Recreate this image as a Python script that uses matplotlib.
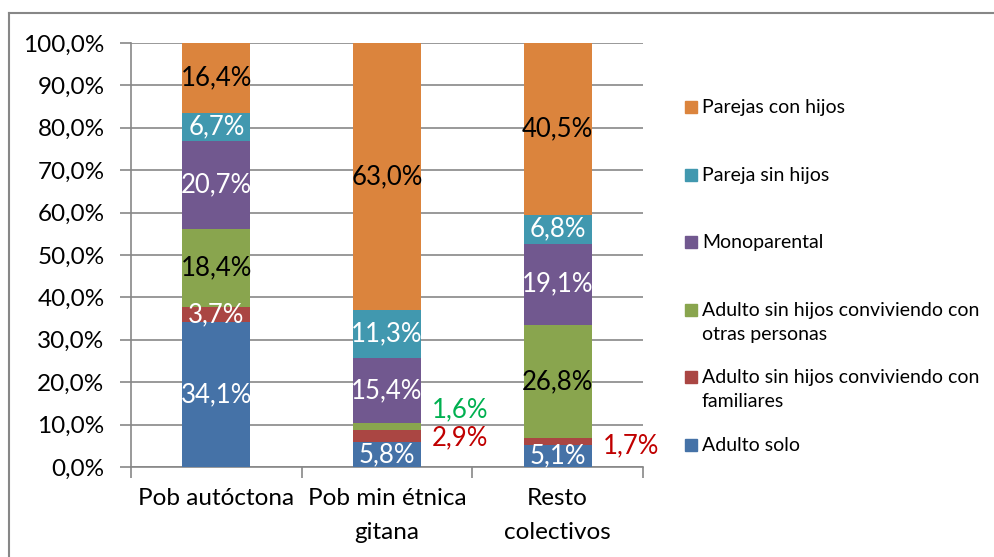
import numpy as np
import matplotlib.pyplot as plt
from matplotlib.patches import Rectangle
from matplotlib.ticker import FuncFormatter, FixedLocator

plt.rcParams['font.family'] = ['Lato', 'DejaVu Sans']

categorias = ["Pob autóctona", "Pob min étnica\ngitana", "Resto\ncolectivos"]
series = ["Adulto solo",
          "Adulto sin hijos conviviendo con\nfamiliares",
          "Adulto sin hijos conviviendo con\notras personas",
          "Monoparental",
          "Pareja sin hijos",
          "Parejas con hijos"]
adulto_solo = [34.1, 5.8, 5.1]
adulto_familiares = [3.7, 2.9, 1.7]
adulto_otras = [18.4, 1.6, 26.8]
monoparental = [20.7, 15.4, 19.1]
pareja_sin_hijos = [6.7, 11.3, 6.8]
parejas_con_hijos = [16.4, 63.0, 40.5]

valores = [adulto_solo, adulto_familiares, adulto_otras,
           monoparental, pareja_sin_hijos, parejas_con_hijos]
colores = ["#4572A7", "#AA4643", "#89A54E", "#71588F", "#4198AF", "#DB843D"]
color_texto = ["white", "white", "black", "white", "white", "black"]

fig = plt.figure(figsize=(9.94, 5.57), dpi=100)
ax = fig.add_axes([131/994, 1-467/557, (643-131)/994, (467-43)/557])

x = np.arange(len(categorias))
base = np.zeros(len(categorias))
for i, v in enumerate(valores):
    v = np.array(v) / 100
    ax.bar(x, v, width=0.4, bottom=base, color=colores[i], zorder=3)
    for j in range(len(x)):
        txt = ("%.1f%%" % (v[j]*100)).replace(".", ",")
        pequeno = v[j] < 0.03
        if pequeno:
            # etiquetas fuera de la barra
            if i == 1:
                col, dy = "#C00000", (-2 if j == 1 else -4)
            else:
                col, dy = "#00B050", 17
            ax.annotate(txt, (x[j], base[j] + v[j]/2), xytext=(73, dy),
                        textcoords="offset pixels", ha="center", va="center",
                        fontsize=18.5, color=col)
        else:
            ax.text(x[j], base[j] + v[j]/2, txt, ha="center", va="center",
                    fontsize=18.5, color=color_texto[i], zorder=4)
    base = base + v

ax.set_xlim(-0.5, 2.5)
ax.set_ylim(0, 1)
ax.yaxis.set_major_locator(FixedLocator(np.arange(0, 1.01, 0.1)))
ax.yaxis.set_major_formatter(FuncFormatter(lambda y, p: ("%.1f%%" % (y*100)).replace(".", ",")))
ax.grid(axis="y", color="#878787", lw=1.2, zorder=0)
ax.set_xticks(x)
ax.set_xticklabels(categorias, fontsize=17.5, linespacing=1.8)
ax.xaxis.set_minor_locator(FixedLocator([-0.5, 0.5, 1.5, 2.5]))
ax.tick_params(axis="x", which="major", length=0, pad=15)
ax.tick_params(axis="x", which="minor", length=8, color="#878787", width=1.2)
ax.tick_params(axis="y", length=8, color="#878787", width=1.2, labelsize=17.5, pad=11)
for s in ["top", "right"]:
    ax.spines[s].set_visible(False)
for s in ["left", "bottom"]:
    ax.spines[s].set_color("#878787")
    ax.spines[s].set_linewidth(1.2)

# leyenda
W, H = 994, 557
y_top = 100
for k in range(len(series) - 1, -1, -1):
    fig.patches.append(Rectangle((685/W, 1-(y_top+13)/H), 12/W, 12/H,
                                 transform=fig.transFigure, color=colores[k]))
    fig.text(702/W, 1-(y_top-1)/H, series[k], fontsize=14, va="top",
             ha="left", linespacing=1.5)
    y_top += 67.6

# marco exterior
fig.add_artist(plt.Line2D([9/W, 9/W], [0, 1-13/H], color="#878787", lw=1.5,
                          transform=fig.transFigure))
fig.add_artist(plt.Line2D([9/W, 1], [1-13/H, 1-13/H], color="#878787", lw=1.5,
                          transform=fig.transFigure))

plt.savefig("out.png", dpi=100)
